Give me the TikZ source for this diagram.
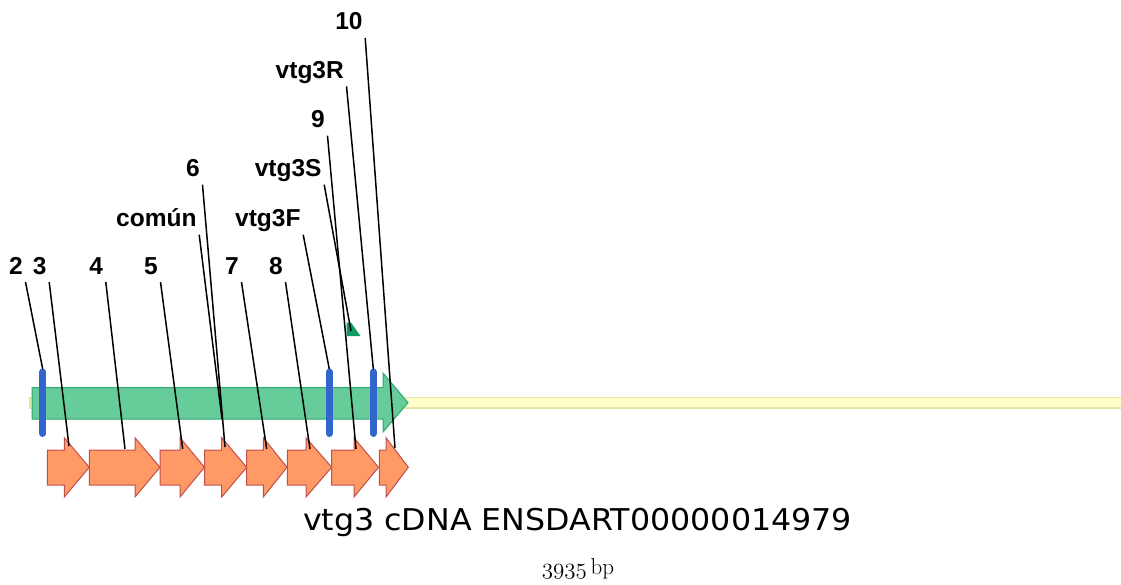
\documentclass[tikz,border=0pt]{standalone}
\usepackage{fix-cm}
\usepackage{graphicx}
\usepackage{fontspec}
\newfontfamily\lblfont{Liberation Sans}
\newfontfamily\titlefont{DejaVu Sans}
\newfontfamily\lmrfont{Latin Modern Roman}
\definecolor{gfill}{HTML}{66CC99}
\definecolor{gdraw}{HTML}{2EA870}
\definecolor{gdark}{HTML}{109A66}
\definecolor{ofill}{HTML}{FF9966}
\definecolor{odraw}{HTML}{C0504D}
\definecolor{bbar}{HTML}{3366CC}
\definecolor{yfill}{HTML}{FFFFCC}
\definecolor{ydraw}{HTML}{E4E4A8}
\tikzset{
  lbl/.style={font=\lblfont\bfseries\fontsize{24.5}{28}\selectfont, inner sep=0pt, anchor=base east},
  leader/.style={draw=black, line width=1.5pt},
  orarrow/.style={fill=ofill, draw=odraw, line width=1pt, line join=miter},
  bluebar/.style={draw=bbar, line width=7pt, line cap=round},
}
\begin{document}
\begin{tikzpicture}[x=1pt,y=-1pt]
\useasboundingbox (0,0) rectangle (1121,585);
% backbone
\draw[fill=yfill, draw=ydraw, line width=1.5pt] (30,397.5) rectangle (1125,408);
% green cDNA arrow
\draw[fill=gfill, draw=gdraw, line width=1pt, line join=miter]
  (32,387.7) -- (383,387.7) -- (383,373) -- (408,402.7) -- (383,432) -- (383,419) -- (32,419) -- cycle;
% small green feature
\fill[gdark] (346.5,322.5) -- (351,322.5) -- (360.5,336) -- (346.5,336) -- cycle;
% blue bars
\draw[bluebar] (42.7,372) -- (42.7,433.5);
\draw[bluebar] (329.3,372) -- (329.3,433.5);
\draw[bluebar] (373.3,372) -- (373.3,433.5);
% orange arrows
\foreach \a/\b/\c in {47.3/64.3/89.3, 89.3/135/160, 160/180/204.5, 204.5/221.7/246.7, 246.7/263.3/287, 287.3/306/331.7, 331.7/354/378.5, 379.3/386/408.3}
  \draw[orarrow] (\a,450) -- (\b,450) -- (\b,437.7) -- (\c,467.3) -- (\b,497) -- (\b,485) -- (\a,485) -- cycle;
% labels
\node[lbl] (l2) at (23,274) {2};
\node[lbl] (l3) at (46.7,274) {3};
\node[lbl] (l4) at (103.3,274) {4};
\node[lbl] (l5) at (158,274) {5};
\node[lbl] (l7) at (239,274) {7};
\node[lbl] (l8) at (283,274) {8};
\node[lbl] (lcomun) at (196.7,226.7) {común};
\node[lbl] (lF) at (300.7,226.7) {vtg3F};
\node[lbl] (l6) at (200,176.7) {6};
\node[lbl] (lS) at (321.7,176.7) {vtg3S};
\node[lbl] (l9) at (325,127.7) {9};
\node[lbl] (lR) at (344,78.3) {vtg3R};
\node[lbl] (l10) at (362.7,30) {10};
% leader end points
\coordinate (e2) at (42.7,369);
\coordinate (e3) at (69,446);
\coordinate (e4) at (125,449);
\coordinate (e5) at (182.7,449);
\coordinate (ecomun) at (222,419);
\coordinate (e6) at (225,447);
\coordinate (e7) at (266.7,449);
\coordinate (e8) at (310,449);
\coordinate (eF) at (329.3,369);
\coordinate (eS) at (351,331);
\coordinate (e9) at (356,449);
\coordinate (eR) at (373.3,369);
\coordinate (e10) at (395,448);
\foreach \n in {2,3,4,5,comun,6,7,8,F,S,9,R,10}
  \draw[leader] ([shift={(2.5,8)}]l\n.base east) -- (e\n);
% title
\node[font=\titlefont\fontsize{30}{36}\selectfont, inner sep=0pt, anchor=base] (title) at (577.5,530)
  {\scalebox{1.056}[1]{vtg3 cDNA ENSDART00000014979}};
\node[inner sep=0pt, anchor=base] (bp) at (578,574)
  {\fontsize{23}{27}\selectfont{\usefont{OML}{cmm}{m}{it}3935}\,{\lmrfont bp}};
\end{tikzpicture}
\end{document}
